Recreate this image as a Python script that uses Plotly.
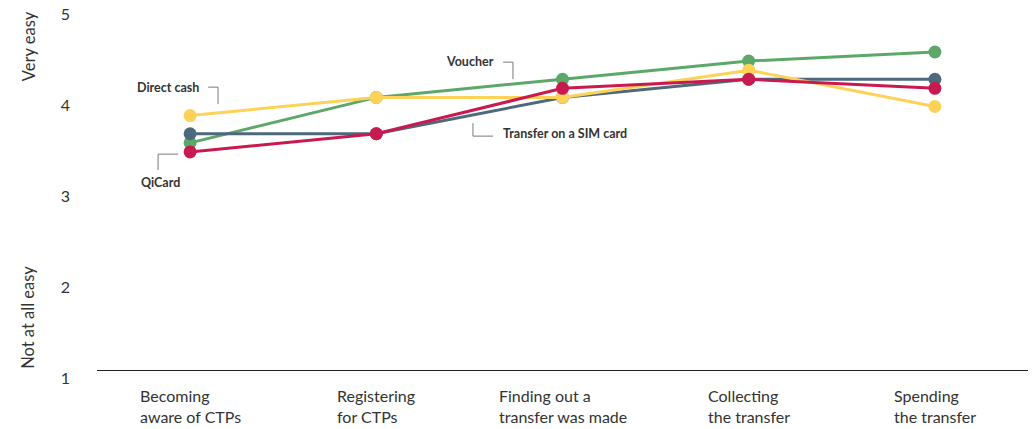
import plotly.graph_objects as go

# Stages of the cash-transfer process (x axis)
stages = [
    "Becoming<br>aware of CTPs",
    "Registering<br>for CTPs",
    "Finding out a<br>transfer was made",
    "Collecting<br>the transfer",
    "Spending<br>the transfer",
]

# Average ease rating (1 = not at all easy, 5 = very easy) per modality
voucher = [3.5, 4.0, 4.2, 4.4, 4.5]
sim_card = [3.6, 3.6, 4.0, 4.2, 4.2]
direct_cash = [3.8, 4.0, 4.0, 4.3, 3.9]
qicard = [3.4, 3.6, 4.1, 4.2, 4.1]

y_ticks = [1, 2, 3, 4, 5]

GREEN = "#5BA869"
SLATE = "#4E697D"
YELLOW = "#FDD259"
RED = "#C91A50"
TEXT = "#333333"
LEADER = "#7a7a7a"
FONT = "Lato"

x_idx = list(range(len(stages)))

fig = go.Figure()
# drawing order: green underneath, then slate, yellow, red on top
for name, vals, col in [
    ("Voucher", voucher, GREEN),
    ("Transfer on a SIM card", sim_card, SLATE),
    ("Direct cash", direct_cash, YELLOW),
    ("QiCard", qicard, RED),
]:
    fig.add_trace(go.Scatter(
        x=x_idx, y=vals, name=name, mode="lines+markers",
        line=dict(color=col, width=3),
        marker=dict(color=col, size=13),
        cliponaxis=False, hoverinfo="name+y",
    ))

# x-axis category labels, left-aligned lines centred under each stage
for i, s in enumerate(stages):
    fig.add_annotation(
        x=i, xref="x", y=-0.038, yref="paper", yanchor="top", xanchor="center",
        text=s, showarrow=False, align="left",
        font=dict(family=FONT, size=16, color=TEXT),
    )

# rotated y-axis descriptors
fig.add_annotation(x=-0.073, xref="paper", y=0.88, yref="paper",
                   xanchor="center", yanchor="middle",
                   text="Very easy", textangle=-90, showarrow=False,
                   font=dict(family=FONT, size=16.5, color=TEXT))
fig.add_annotation(x=-0.074, xref="paper", y=0.142, yref="paper",
                   xanchor="center", yanchor="middle",
                   text="Not at all easy", textangle=-90, showarrow=False,
                   font=dict(family=FONT, size=16.5, color=TEXT))

# series labels with leader lines
lbl_font = dict(family=FONT, size=12.5, color=TEXT)
fig.add_annotation(x=0.059, y=4.11, xanchor="right", yanchor="middle",
                   text="<b>Direct cash</b>", showarrow=False, font=lbl_font)
fig.add_annotation(x=-0.274, y=3.06, xanchor="left", yanchor="middle",
                   text="<b>QiCard</b>", showarrow=False, font=lbl_font)
fig.add_annotation(x=1.643, y=4.40, xanchor="right", yanchor="middle",
                   text="<b>Voucher</b>", showarrow=False, font=lbl_font)
fig.add_annotation(x=1.67, y=3.607, xanchor="left", yanchor="middle",
                   text="<b>Transfer on a SIM card</b>", showarrow=False, font=lbl_font)

leaders = [
    [(0.097, 4.113), (0.150, 4.113), (0.150, 3.926)],
    [(-0.064, 3.376), (-0.172, 3.376), (-0.172, 3.20)],
    [(1.681, 4.388), (1.734, 4.388), (1.734, 4.201)],
    [(1.519, 3.717), (1.519, 3.574), (1.627, 3.574)],
]
for pts in leaders:
    path = "M " + " L ".join(f"{x},{y}" for x, y in pts)
    fig.add_shape(type="path", path=path, xref="x", yref="y",
                  line=dict(color=LEADER, width=1))

fig.update_layout(
    width=1035, height=429,
    margin=dict(l=97, r=7, t=2, b=59),
    paper_bgcolor="white", plot_bgcolor="white",
    showlegend=False,
    xaxis=dict(range=[-0.5, 4.5], showgrid=False, zeroline=False,
               showticklabels=False, showline=True, linecolor="#222222",
               linewidth=1, ticks=""),
    yaxis=dict(range=[1, 5.05], tickvals=y_ticks, showgrid=False,
               zeroline=False, showline=False, ticks="",
               ticklabelstandoff=26, ticklabelshift=8,
               tickfont=dict(family=FONT, size=16, color=TEXT)),
)

fig.write_html("out.html")
